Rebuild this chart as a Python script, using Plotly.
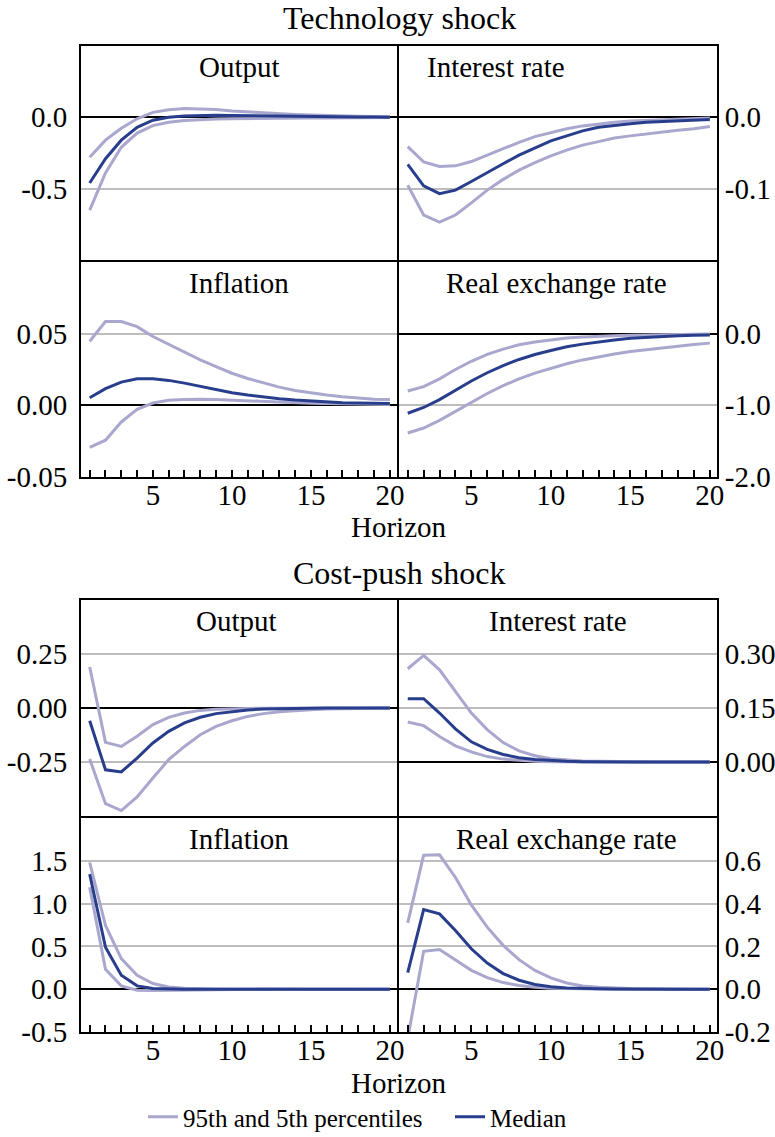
import plotly.graph_objects as go

# ---------------- data ----------------
horizon = list(range(1, 21))

# Technology shock
tech_output_p95 = [-0.28, -0.16, -0.076, -0.01, 0.035, 0.053, 0.062, 0.06, 0.055, 0.045,
                   0.038, 0.03, 0.025, 0.02, 0.016, 0.012, 0.01, 0.008, 0.006, 0.005]
tech_output_med = [-0.46, -0.29, -0.16, -0.07, -0.02, 0.0, 0.01, 0.015, 0.015, 0.013,
                   0.011, 0.009, 0.007, 0.006, 0.005, 0.004, 0.003, 0.002, 0.002, 0.001]
tech_output_p05 = [-0.65, -0.39, -0.21, -0.11, -0.058, -0.035, -0.023, -0.016, -0.012, -0.01,
                   -0.008, -0.007, -0.006, -0.005, -0.004, -0.004, -0.003, -0.003, -0.002, -0.002]

tech_rate_p95 = [-0.041, -0.0625, -0.069, -0.068, -0.062, -0.053, -0.043, -0.035, -0.027, -0.021,
                 -0.016, -0.012, -0.009, -0.007, -0.005, -0.004, -0.003, -0.002, -0.002, -0.001]
tech_rate_med = [-0.066, -0.096, -0.107, -0.102, -0.090, -0.077, -0.065, -0.053, -0.043, -0.033,
                 -0.026, -0.019, -0.014, -0.011, -0.009, -0.007, -0.006, -0.005, -0.004, -0.003]
tech_rate_p05 = [-0.095, -0.137, -0.147, -0.137, -0.120, -0.102, -0.087, -0.074, -0.0635, -0.054,
                 -0.046, -0.039, -0.034, -0.029, -0.026, -0.023, -0.020, -0.018, -0.016, -0.013]

tech_infl_p95 = [0.0447, 0.0585, 0.0585, 0.0549, 0.048, 0.0424, 0.037, 0.0317, 0.027, 0.0224,
                 0.0187, 0.0155, 0.0127, 0.0104, 0.0086, 0.0072, 0.006, 0.005, 0.0043, 0.004]
tech_infl_med = [0.0053, 0.0116, 0.0162, 0.0185, 0.0185, 0.0174, 0.0155, 0.0132, 0.011, 0.0088,
                 0.0072, 0.0058, 0.0046, 0.0037, 0.003, 0.0023, 0.0018, 0.0016, 0.0014, 0.0012]
tech_infl_p05 = [-0.0294, -0.0243, -0.0116, -0.0028, 0.0016, 0.0035, 0.004, 0.0043, 0.004, 0.0035,
                 0.003, 0.0025, 0.002, 0.0017, 0.0014, 0.0012, 0.001, 0.0008, 0.0006, 0.0005]

tech_rer_p95 = [-0.80, -0.74, -0.63, -0.50, -0.385, -0.29, -0.215, -0.155, -0.115, -0.083,
                -0.06, -0.046, -0.032, -0.028, -0.023, -0.018, -0.014, -0.011, -0.008, -0.005]
tech_rer_med = [-1.11, -1.03, -0.92, -0.79, -0.66, -0.545, -0.445, -0.36, -0.29, -0.234,
                -0.183, -0.146, -0.115, -0.087, -0.064, -0.05, -0.037, -0.028, -0.023, -0.018]
tech_rer_p05 = [-1.386, -1.317, -1.21, -1.088, -0.964, -0.835, -0.725, -0.63, -0.55, -0.48,
                -0.42, -0.366, -0.32, -0.284, -0.248, -0.22, -0.193, -0.174, -0.151, -0.132]

# Cost-push shock
cp_output_p95 = [0.19, -0.159, -0.178, -0.131, -0.077, -0.043, -0.023, -0.011, -0.006, -0.003,
                 -0.002, -0.001, -0.001, 0.0, 0.0, 0.0, 0.0, 0.0, 0.0, 0.0]
cp_output_med = [-0.059, -0.286, -0.296, -0.232, -0.162, -0.108, -0.069, -0.043, -0.026, -0.016,
                 -0.009, -0.005, -0.003, -0.002, -0.001, 0.0, 0.0, 0.0, 0.0, 0.0]
cp_output_p05 = [-0.236, -0.443, -0.475, -0.412, -0.324, -0.239, -0.178, -0.124, -0.085, -0.059,
                 -0.039, -0.026, -0.017, -0.011, -0.008, -0.005, -0.003, -0.002, -0.001, -0.001]

cp_rate_p95 = [0.259, 0.296, 0.256, 0.196, 0.136, 0.090, 0.054, 0.031, 0.0175, 0.009,
               0.005, 0.003, 0.002, 0.001, 0.0, 0.0, 0.0, 0.0, 0.0, 0.0]
cp_rate_med = [0.176, 0.176, 0.136, 0.092, 0.056, 0.035, 0.021, 0.012, 0.007, 0.004,
               0.002, 0.001, 0.0, 0.0, 0.0, 0.0, 0.0, 0.0, 0.0, 0.0]
cp_rate_p05 = [0.111, 0.101, 0.071, 0.045, 0.028, 0.015, 0.008, 0.004, 0.002, 0.001,
               0.0, 0.0, 0.0, 0.0, 0.0, 0.0, 0.0, 0.0, 0.0, 0.0]

cp_infl_p95 = [1.48, 0.744, 0.357, 0.163, 0.066, 0.027, 0.012, 0.005, 0.002, 0.001,
               0.0, 0.0, 0.0, 0.0, 0.0, 0.0, 0.0, 0.0, 0.0, 0.0]
cp_infl_med = [1.345, 0.49, 0.163, 0.039, 0.008, 0.002, 0.0, 0.0, 0.0, 0.0,
               0.0, 0.0, 0.0, 0.0, 0.0, 0.0, 0.0, 0.0, 0.0, 0.0]
cp_infl_p05 = [1.19, 0.233, 0.039, -0.012, -0.015, -0.012, -0.008, -0.005, -0.003, -0.002,
               -0.001, 0.0, 0.0, 0.0, 0.0, 0.0, 0.0, 0.0, 0.0, 0.0]

cp_rer_p95 = [0.31, 0.626, 0.628, 0.522, 0.394, 0.29, 0.205, 0.138, 0.088, 0.053,
              0.029, 0.015, 0.009, 0.005, 0.003, 0.002, 0.001, 0.0, 0.0, 0.0]
cp_rer_med = [0.078, 0.372, 0.352, 0.274, 0.189, 0.122, 0.073, 0.042, 0.022, 0.011,
              0.006, 0.003, 0.002, 0.001, 0.0, 0.0, 0.0, 0.0, 0.0, 0.0]
cp_rer_p05 = [-0.23, 0.177, 0.185, 0.135, 0.088, 0.054, 0.031, 0.017, 0.009, 0.005,
              0.003, 0.002, 0.001, 0.0, 0.0, 0.0, 0.0, 0.0, 0.0, 0.0]

# tick labels
x_tick_vals = list(range(1, 21))
x_tick_text = [str(v) if v % 5 == 0 else "" for v in x_tick_vals]

tech_output_ticks = [0.0, -0.5]
tech_output_labels = ["0.0", "-0.5"]
tech_rate_ticks = [0.0, -0.1]
tech_rate_labels = ["0.0", "-0.1"]
tech_infl_ticks = [0.05, 0.0, -0.05]
tech_infl_labels = ["0.05", "0.00", "-0.05"]
tech_rer_ticks = [0.0, -1.0, -2.0]
tech_rer_labels = ["0.0", "-1.0", "-2.0"]

cp_output_ticks = [0.25, 0.0, -0.25]
cp_output_labels = ["0.25", "0.00", "-0.25"]
cp_rate_ticks = [0.30, 0.15, 0.0]
cp_rate_labels = ["0.30", "0.15", "0.00"]
cp_infl_ticks = [1.5, 1.0, 0.5, 0.0, -0.5]
cp_infl_labels = ["1.5", "1.0", "0.5", "0.0", "-0.5"]
cp_rer_ticks = [0.6, 0.4, 0.2, 0.0, -0.2]
cp_rer_labels = ["0.6", "0.4", "0.2", "0.0", "-0.2"]

panel_titles = ["Output", "Interest rate", "Inflation", "Real exchange rate"]
group_titles = ["Technology shock", "Cost-push shock"]
x_title = "Horizon"
legend_names = ["95th and 5th percentiles", "Median"]

# ---------------- styling / layout ----------------
W, H = 775, 1137
FONT = "Liberation Serif, Times New Roman, serif"
C_PCT = "#A9A7CD"
C_MED = "#283E8C"
GRID = "#BDBDBD"
FS = 29

def px_x(p):
    return p / W

def px_y(p):
    return 1 - p / H

xl = [px_x(81), px_x(397)]
xr = [px_x(399), px_x(717)]
rows_px = [(46, 260), (262, 477), (600, 816), (818, 1032)]
ydoms = [[px_y(b), px_y(t)] for (t, b) in rows_px]

panels = [
    # (p95, med, p05, xdom, row, side, range, ticks, labels, title, title_xpx, bottom_row)
    (tech_output_p95, tech_output_med, tech_output_p05, xl, 0, "left", [-1.0, 0.5], tech_output_ticks, tech_output_labels, panel_titles[0], 239, False),
    (tech_rate_p95, tech_rate_med, tech_rate_p05, xr, 0, "right", [-0.2, 0.1], tech_rate_ticks, tech_rate_labels, panel_titles[1], 496, False),
    (tech_infl_p95, tech_infl_med, tech_infl_p05, xl, 1, "left", [-0.05, 0.10], tech_infl_ticks, tech_infl_labels, panel_titles[2], 239, True),
    (tech_rer_p95, tech_rer_med, tech_rer_p05, xr, 1, "right", [-2.0, 1.0], tech_rer_ticks, tech_rer_labels, panel_titles[3], 556, True),
    (cp_output_p95, cp_output_med, cp_output_p05, xl, 2, "left", [-0.5, 0.5], cp_output_ticks, cp_output_labels, panel_titles[0], 237, False),
    (cp_rate_p95, cp_rate_med, cp_rate_p05, xr, 2, "right", [-0.15, 0.45], cp_rate_ticks, cp_rate_labels, panel_titles[1], 558, False),
    (cp_infl_p95, cp_infl_med, cp_infl_p05, xl, 3, "left", [-0.5, 2.0], cp_infl_ticks, cp_infl_labels, panel_titles[2], 239, True),
    (cp_rer_p95, cp_rer_med, cp_rer_p05, xr, 3, "right", [-0.2, 0.8], cp_rer_ticks, cp_rer_labels, panel_titles[3], 566, True),
]

fig = go.Figure()
layout = dict(
    width=W, height=H,
    margin=dict(l=0, r=0, t=0, b=0, autoexpand=False),
    paper_bgcolor="white", plot_bgcolor="white",
    font=dict(family=FONT, size=FS, color="black"),
    showlegend=True,
)
annotations = []

for i, (p95, med, p05, xdom, row, side, yr, tv, tt, title, tx, bottom) in enumerate(panels):
    n = i + 1
    xa = "x" if n == 1 else f"x{n}"
    ya = "y" if n == 1 else f"y{n}"
    first = (i == 0)
    fig.add_trace(go.Scatter(x=horizon, y=p95, mode="lines", line=dict(color=C_PCT, width=3),
                             name=legend_names[0], legendgroup="pct", showlegend=first,
                             xaxis=xa, yaxis=ya))
    fig.add_trace(go.Scatter(x=horizon, y=p05, mode="lines", line=dict(color=C_PCT, width=3),
                             name=legend_names[0], legendgroup="pct", showlegend=False,
                             xaxis=xa, yaxis=ya))
    fig.add_trace(go.Scatter(x=horizon, y=med, mode="lines", line=dict(color=C_MED, width=3),
                             name=legend_names[1], legendgroup="med", showlegend=first,
                             xaxis=xa, yaxis=ya))

    xkey = "xaxis" if n == 1 else f"xaxis{n}"
    ykey = "yaxis" if n == 1 else f"yaxis{n}"
    layout[xkey] = dict(
        domain=xdom, anchor=ya, range=[0.45, 20.45], automargin=False,
        showgrid=False, zeroline=False,
        showline=True, mirror=True, linecolor="black", linewidth=2,
        tickmode="array", tickvals=x_tick_vals, ticktext=x_tick_text,
        ticks="inside" if bottom else "", ticklen=7, tickwidth=1.5, tickcolor="black",
        showticklabels=bottom, tickfont=dict(size=FS), ticklabelstandoff=-9,
        fixedrange=True,
    )
    layout[ykey] = dict(
        domain=ydoms[row], anchor=xa, side=side, range=yr, automargin=False,
        showgrid=True, gridcolor=GRID, gridwidth=1.5,
        zeroline=True, zerolinecolor="black", zerolinewidth=1.5,
        showline=True, mirror=True, linecolor="black", linewidth=2,
        tickmode="array", tickvals=tv, ticktext=tt, ticks="",
        ticklabelstandoff=6 if side == "left" else 0,
        tickfont=dict(size=FS),
        fixedrange=True,
    )
    top_px = rows_px[row][0]
    annotations.append(dict(text=title, x=px_x(tx), y=px_y(top_px + 21), xref="paper", yref="paper",
                            xanchor="center", yanchor="middle", showarrow=False,
                            font=dict(size=FS)))

annotations.append(dict(text=group_titles[0], x=px_x(399), y=px_y(18), xref="paper", yref="paper",
                        xanchor="center", yanchor="middle", showarrow=False, font=dict(size=32)))
annotations.append(dict(text=group_titles[1], x=px_x(399), y=px_y(573), xref="paper", yref="paper",
                        xanchor="center", yanchor="middle", showarrow=False, font=dict(size=32)))
annotations.append(dict(text=x_title, x=px_x(399), y=px_y(527), xref="paper", yref="paper",
                        xanchor="center", yanchor="middle", showarrow=False, font=dict(size=FS)))
annotations.append(dict(text=x_title, x=px_x(399), y=px_y(1083), xref="paper", yref="paper",
                        xanchor="center", yanchor="middle", showarrow=False, font=dict(size=FS)))

layout["annotations"] = annotations
layout["legend"] = dict(orientation="h", x=px_x(143), xanchor="left", y=px_y(1117), yanchor="middle",
                        font=dict(size=25), bgcolor="rgba(0,0,0,0)", itemwidth=30,
                        entrywidth=262, entrywidthmode="pixels",
                        traceorder="normal")
fig.update_layout(**layout)
fig.write_html("out.html")
